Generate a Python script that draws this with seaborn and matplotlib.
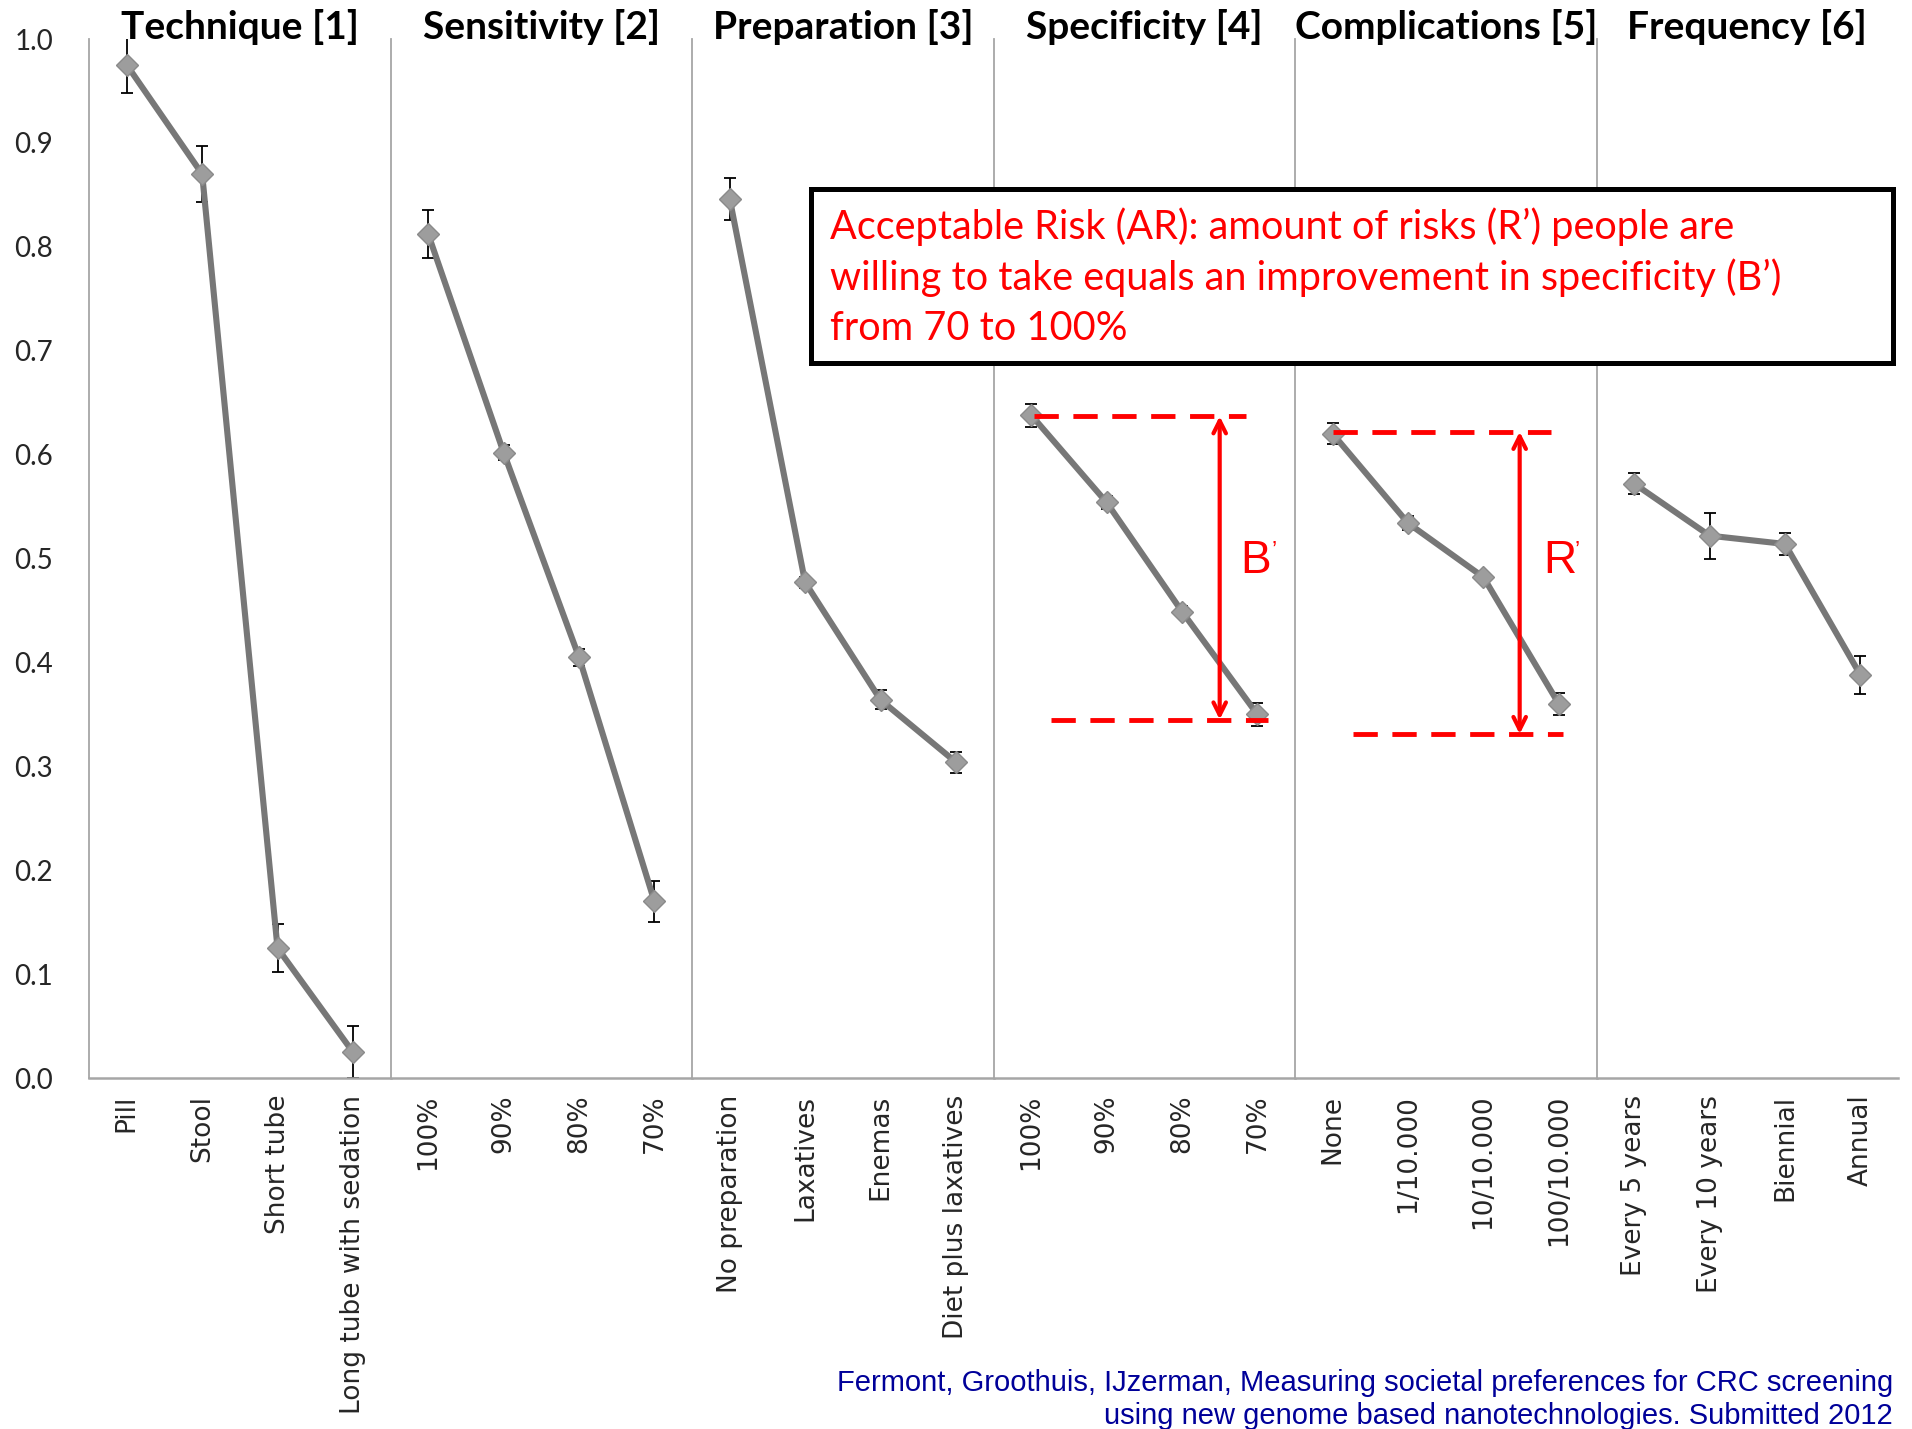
import matplotlib
matplotlib.use("Agg")
import matplotlib.pyplot as plt
from matplotlib.patches import Rectangle
import seaborn as sns
import pandas as pd

# Attribute levels and their mean utilities with error half-widths
panel_titles = ["Technique [1]", "Sensitivity [2]", "Preparation [3]",
                "Specificity [4]", "Complications [5]", "Frequency [6]"]

technique_levels = ["Pill", "Stool", "Short tube", "Long tube with sedation"]
technique_util = [0.975, 0.870, 0.125, 0.025]
technique_err = [0.027, 0.027, 0.023, 0.025]

sensitivity_levels = ["100%", "90%", "80%", "70%"]
sensitivity_util = [0.812, 0.602, 0.405, 0.170]
sensitivity_err = [0.023, 0.007, 0.008, 0.020]

preparation_levels = ["No preparation", "Laxatives", "Enemas", "Diet plus laxatives"]
preparation_util = [0.846, 0.477, 0.364, 0.304]
preparation_err = [0.020, 0.005, 0.009, 0.010]

specificity_levels = ["100%", "90%", "80%", "70%"]
specificity_util = [0.638, 0.554, 0.449, 0.350]
specificity_err = [0.011, 0.006, 0.005, 0.011]

complications_levels = ["None", "1/10.000", "10/10.000", "100/10.000"]
complications_util = [0.620, 0.534, 0.482, 0.360]
complications_err = [0.010, 0.007, 0.005, 0.011]

frequency_levels = ["Every 5 years", "Every 10 years", "Biennial", "Annual"]
frequency_util = [0.572, 0.522, 0.514, 0.388]
frequency_err = [0.010, 0.022, 0.011, 0.018]

# Benefit (B') and risk (R') ranges marked in the specificity / complications panels
benefit_top, benefit_bottom = 0.637, 0.345
risk_top, risk_bottom = 0.622, 0.331

box_lines = ["Acceptable Risk (AR): amount of risks (R\u2019) people are",
             "willing to take equals an improvement in specificity (B\u2019)",
             "from 70 to 100%"]
citation_lines = ["Fermont, Groothuis, IJzerman, Measuring societal preferences for CRC screening",
                  "using new genome based nanotechnologies. Submitted 2012"]

levels_all = [technique_levels, sensitivity_levels, preparation_levels,
              specificity_levels, complications_levels, frequency_levels]
util_all = [technique_util, sensitivity_util, preparation_util,
            specificity_util, complications_util, frequency_util]
err_all = [technique_err, sensitivity_err, preparation_err,
           specificity_err, complications_err, frequency_err]

rows = []
for p, (title, levs, us, es) in enumerate(zip(panel_titles, levels_all, util_all, err_all)):
    for k, (lev, u, e) in enumerate(zip(levs, us, es)):
        rows.append(dict(panel=title, pos=k, level=lev, utility=u, err=e))
df = pd.DataFrame(rows)

sns.set_style("white")
plt.rcParams["font.family"] = ["Lato", "DejaVu Sans"]

AXIS_GREY = "#a6a6a6"
LINE_GREY = "#777777"

fig, axes = plt.subplots(1, 6, sharey=True, figsize=(19.12, 14.29), dpi=100,
                         gridspec_kw=dict(wspace=0))
fig.subplots_adjust(left=0.0466, right=0.9927, bottom=0.2456, top=0.9727)

for i, (ax, title) in enumerate(zip(axes, panel_titles)):
    sub = df[df["panel"] == title]
    ax.errorbar(sub["pos"], sub["utility"], yerr=sub["err"], fmt="none",
                ecolor="black", elinewidth=1.3, capsize=4.5, capthick=1.3, zorder=2)
    sns.lineplot(data=sub, x="pos", y="utility", ax=ax, color=LINE_GREY, lw=4.4,
                 marker="D", markersize=11.5, markerfacecolor="#9d9d9d",
                 markeredgecolor="#8a8a8a", markeredgewidth=1, zorder=3)
    ax.set_xlim(-0.5, 3.5)
    ax.set_ylim(0, 1.0)
    ax.set_xlabel("")
    ax.set_ylabel("")

    ax.set_xticks(range(len(sub)))
    ax.set_xticklabels(sub["level"], rotation=90, fontsize=19,
                       fontfamily="DejaVu Sans", va="top", ha="center")
    ax.set_xticks([-0.5, 0.5, 1.5, 2.5, 3.5], minor=True)
    ax.tick_params(axis="x", which="major", length=0, pad=12)
    ax.tick_params(axis="x", which="minor", length=6.5, width=1.2,
                   color=AXIS_GREY, direction="out")

    ax.set_yticks([j / 10 for j in range(11)])
    if i == 0:
        ax.set_yticklabels([f"{j / 10:.1f}" for j in range(11)], fontsize=20)
        ax.tick_params(axis="y", which="major", direction="in", length=7, width=1.2,
                       color=AXIS_GREY, pad=26)
    else:
        ax.tick_params(axis="y", which="major", direction="out", length=3, width=1.0,
                       color="#cccccc", labelleft=False)

    for side in ("top", "right"):
        ax.spines[side].set_visible(False)
    ax.spines["left"].set_color(AXIS_GREY)
    ax.spines["left"].set_linewidth(1.3)
    ax.spines["bottom"].set_color(AXIS_GREY)
    ax.spines["bottom"].set_linewidth(1.8)

    ax.text(0.5, 1.0, title, transform=ax.transAxes, ha="center", va="baseline",
            fontsize=28, fontweight="bold", color="black")


def range_marker(ax, top, bottom, top_x, bottom_x, arrow_x, label, label_x, label_y):
    red = "#ff0000"
    ax.plot(top_x, [top, top], color=red, lw=3.5, dashes=(5, 3), zorder=5,
            solid_capstyle="butt", dash_capstyle="butt")
    ax.plot(bottom_x, [bottom, bottom], color=red, lw=3.5, dashes=(5, 3), zorder=5,
            solid_capstyle="butt", dash_capstyle="butt")
    ax.annotate("", xy=(arrow_x, top), xytext=(arrow_x, bottom),
                arrowprops=dict(arrowstyle="<->,head_length=0.9,head_width=0.45",
                                color=red, lw=3, shrinkA=0, shrinkB=0), zorder=6)
    ax.text(label_x, label_y, label, color=red, fontsize=33,
            family="Liberation Sans", ha="left", va="center", zorder=6)
    ax.annotate("\u2019", xy=(label_x, label_y), xytext=(22.5, 14),
                textcoords="offset points", color=red, fontsize=17,
                family="Liberation Sans", ha="left", va="top", zorder=6)


range_marker(axes[3], benefit_top, benefit_bottom, [0.03, 2.85], [0.26, 3.14],
             2.50, "B", 2.77, 0.498)
range_marker(axes[4], risk_top, risk_bottom, [0.0, 2.89], [0.27, 3.06],
             2.48, "R", 2.79, 0.498)

# Definition box
fig.add_artist(Rectangle((0.4242, 0.7460), 0.5659, 0.1218, transform=fig.transFigure,
                         facecolor="white", edgecolor="black", lw=3.6, zorder=10))
for line, y in zip(box_lines, [0.8411, 0.8055, 0.7698]):
    fig.text(0.4341, y, line, color="#ff0000", fontsize=28.5, va="center", ha="left",
             zorder=11)

for line, y in zip(citation_lines, [0.0322, 0.0091]):
    fig.text(0.9901, y, line, color="#000099", fontsize=21, family="Liberation Sans",
             ha="right", va="center")

fig.savefig("out.png", dpi=100)
